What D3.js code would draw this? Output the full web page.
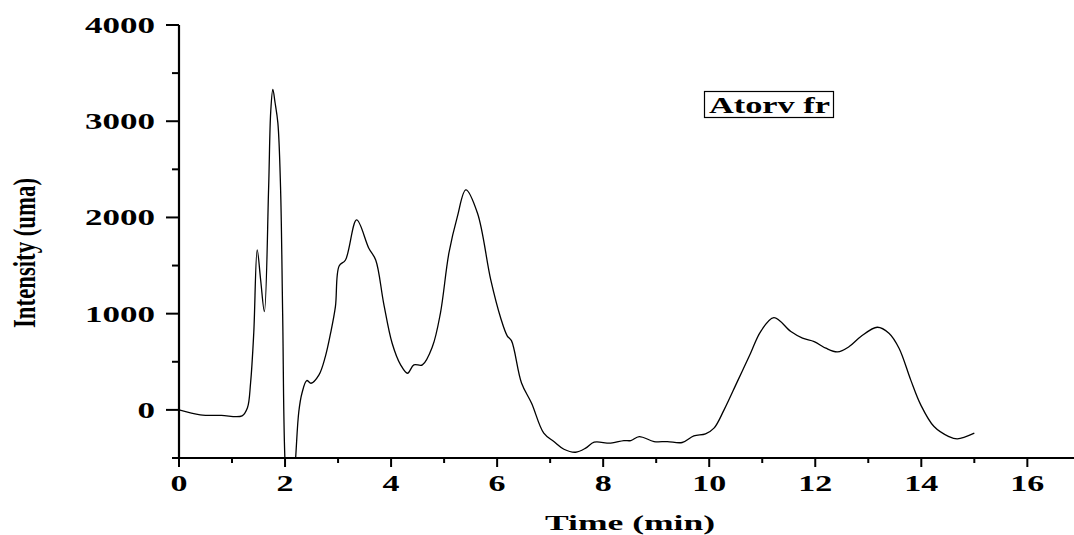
<!DOCTYPE html>
<html>
<head>
<meta charset="utf-8">
<script src="https://cdn.jsdelivr.net/npm/d3@7"></script>
<style>
  html, body { margin: 0; padding: 0; background: #fff; }
  svg { display: block; }
  text { font-family: "Liberation Serif", "Times New Roman", serif; font-weight: bold; fill: #000; }
</style>
</head>
<body>
<svg id="chart" width="1074" height="535"></svg>
<script>
// ---- data ----
const timeMin = [0, 0.4, 0.8, 1.19, 1.29, 1.35, 1.41, 1.475, 1.54, 1.61, 1.69, 1.73, 1.77, 1.81, 1.865, 1.915,
  1.955, 2.0, 2.1, 2.2, 2.26, 2.32, 2.41, 2.49, 2.64, 2.76, 2.86, 2.95, 3.02, 3.14, 3.35, 3.58, 3.71, 3.86,
  4.02, 4.18, 4.31, 4.43, 4.59, 4.78, 4.93, 5.09, 5.25, 5.41, 5.63, 5.88, 6.07, 6.19, 6.27, 6.46, 6.65, 6.88,
  7.07, 7.26, 7.48, 7.67, 7.83, 8.14, 8.39, 8.52, 8.68, 8.96, 9.21, 9.49, 9.71, 9.93, 10.09, 10.28, 10.53,
  10.78, 10.97, 11.22, 11.54, 11.76, 11.98, 12.2, 12.42, 12.64, 12.86, 13.17, 13.39, 13.58, 13.8, 13.99,
  14.24, 14.52, 14.68, 15.0];
const intensity = [0, -52, -58, -62, 20, 280, 800, 1662, 1350, 1021, 2300, 3100, 3332, 3200, 2980, 2317,
  1000, -550, -1400, -500, -17, 176, 305, 277, 364, 554, 800, 1073, 1496, 1558, 1974, 1680, 1558, 1108,
  693, 468, 381, 468, 468, 658, 1004, 1628, 2009, 2286, 2043, 1351, 950, 770, 720, 280, 69, -242,
  -329, -409, -440, -398, -336, -346, -319, -319, -277, -329, -329, -339, -270, -249, -190, 0, 294,
  589, 814, 959, 814, 745, 710, 641, 603, 658, 762, 859, 797, 641, 312, 52,
  -173, -277, -301, -242];
const xTicks = [0, 2, 4, 6, 8, 10, 12, 14, 16];
const xMinorTicks = [1, 3, 5, 7, 9, 11, 13, 15];
const yTicks = [0, 1000, 2000, 3000, 4000];
const yMinorTicks = [-500, 500, 1500, 2500, 3500];
const seriesName = "Atorv fr";
const xTitle = "Time (min)";
const yTitle = "Intensity (uma)";

// ---- layout ----
const pLeft = 179, pRight = 1074, pTop = 25, pBottom = 458;
const x = d3.scaleLinear().domain([0, 16.88]).range([pLeft, pRight]);
const y = d3.scaleLinear().domain([-500, 4000]).range([pBottom, pTop]);

const svg = d3.select("#chart");
const data = timeMin.map((t, i) => ({ t, v: intensity[i] }));

svg.append("defs").append("clipPath").attr("id", "plotclip")
  .append("rect").attr("x", pLeft).attr("y", pTop - 2).attr("width", pRight - pLeft).attr("height", pBottom - pTop + 2);

// curve
const line = d3.line().x(d => x(d.t)).y(d => y(d.v)).curve(d3.curveCatmullRom.alpha(0.5));
svg.append("path").datum(data)
  .attr("clip-path", "url(#plotclip)")
  .attr("d", line)
  .attr("fill", "none").attr("stroke", "#000").attr("stroke-width", 1.3);

// axes
const axisG = svg.append("g");
axisG.append("line").attr("x1", pLeft).attr("x2", pLeft).attr("y1", pTop).attr("y2", pBottom + 1)
  .attr("stroke", "#000").attr("stroke-width", 2.2);
axisG.append("line").attr("x1", pLeft - 1).attr("x2", pRight).attr("y1", pBottom).attr("y2", pBottom)
  .attr("stroke", "#000").attr("stroke-width", 2.2);

// y ticks
yTicks.forEach(v => {
  axisG.append("line").attr("x1", pLeft - 13).attr("x2", pLeft).attr("y1", y(v)).attr("y2", y(v))
    .attr("stroke", "#000").attr("stroke-width", 2);
  const s = String(v);
  axisG.append("text").attr("x", 155).attr("y", y(v) + 8)
    .attr("text-anchor", "end").attr("font-size", 23.5)
    .attr("textLength", 17.5 * s.length).attr("lengthAdjust", "spacingAndGlyphs")
    .text(s);
});
yMinorTicks.forEach(v => {
  axisG.append("line").attr("x1", pLeft - 7).attr("x2", pLeft).attr("y1", y(v)).attr("y2", y(v))
    .attr("stroke", "#000").attr("stroke-width", 2);
});

// x ticks
xTicks.forEach(t => {
  axisG.append("line").attr("x1", x(t)).attr("x2", x(t)).attr("y1", pBottom).attr("y2", pBottom + 9)
    .attr("stroke", "#000").attr("stroke-width", 2);
  const s = String(t);
  const w = 17 * s.length;
  axisG.append("text").attr("x", x(t) - w / 2).attr("y", 491)
    .attr("font-size", 22.5)
    .attr("textLength", w).attr("lengthAdjust", "spacingAndGlyphs")
    .text(s);
});
xMinorTicks.forEach(t => {
  axisG.append("line").attr("x1", x(t)).attr("x2", x(t)).attr("y1", pBottom).attr("y2", pBottom + 5)
    .attr("stroke", "#000").attr("stroke-width", 2);
});

// axis titles
svg.append("text").attr("x", 545).attr("y", 530)
  .attr("font-size", 21).attr("textLength", 170).attr("lengthAdjust", "spacingAndGlyphs")
  .text(xTitle);
svg.append("text").attr("transform", "translate(35,328) rotate(-90)")
  .attr("x", 0).attr("y", 0)
  .attr("font-size", 32).attr("textLength", 150).attr("lengthAdjust", "spacingAndGlyphs")
  .text(yTitle);

// legend box
svg.append("rect").attr("x", 704.5).attr("y", 91.5).attr("width", 129).attr("height", 26)
  .attr("fill", "#fff").attr("stroke", "#000").attr("stroke-width", 1.2);
svg.append("text").attr("x", 709).attr("y", 113)
  .attr("font-size", 24).attr("textLength", 121).attr("lengthAdjust", "spacingAndGlyphs")
  .text(seriesName);
</script>
</body>
</html>
